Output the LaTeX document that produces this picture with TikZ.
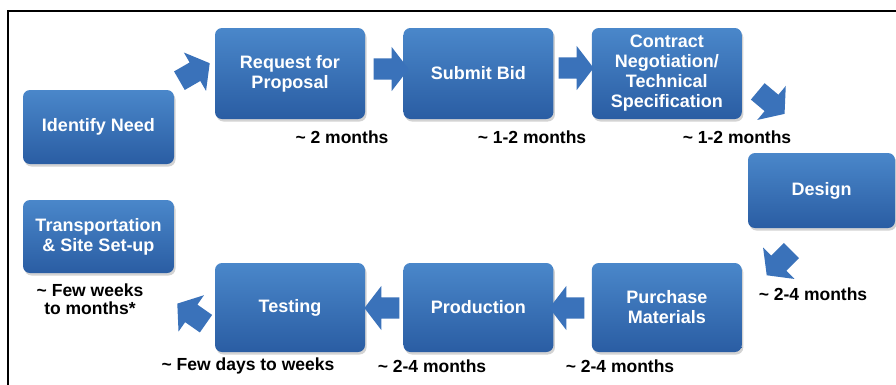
\documentclass[tikz,border=0pt]{standalone}
\usepackage{fontspec}
\setsansfont{Liberation Sans}
\usepackage{xcolor}
\usetikzlibrary{positioning,shapes.arrows,shadows}

\definecolor{boxtop}{HTML}{4A87CA}
\definecolor{boxbot}{HTML}{2A5DA3}
\definecolor{arrowblue}{HTML}{3A72BA}

\begin{document}
\begin{tikzpicture}[x=1pt, y=-1pt, font=\sffamily\bfseries,
    stage/.style={rounded corners=7pt, top color=boxtop, bottom color=boxbot, text=white, align=center,
      minimum width=150pt, inner sep=2pt, font=\sffamily\bfseries\fontsize{18}{20}\selectfont,
      drop shadow={shadow xshift=1.5pt, shadow yshift=-2.5pt, opacity=0.35}},
    dur/.style={align=center, font=\sffamily\bfseries\fontsize{17.5}{18}\selectfont},
    barrow/.style={single arrow, fill=arrowblue, minimum height=35pt, inner xsep=0pt, inner ysep=10.5pt,
      single arrow head extend=11.5pt, single arrow tip angle=105}]
    \useasboundingbox (0,0) rectangle (896,384);
    \draw[line width=2pt] (8,385) -- (8,10.5) -- (897,10.5);
    % top row
    \node[stage, minimum width=151pt, minimum height=74pt] (need) at (98.5,127) {Identify Need};
    \node[stage, minimum height=91pt] (rfp) at (290,73.5) {Request for\\Proposal};
    \node[stage, minimum height=91pt, right=38pt of rfp] (bid) {Submit Bid};
    \node[stage, minimum height=91pt, right=38pt of bid] (contract) {Contract\\Negotiation/\\Technical\\Specification};
    \node[stage, minimum width=147pt, minimum height=75pt] (design) at (821.5,190.5) {Design};
    % bottom row
    \node[stage, minimum height=89pt] (testing) at (290,307.5) {Testing};
    \node[stage, minimum height=89pt, right=38pt of testing] (production) {Production};
    \node[stage, minimum height=89pt, right=38pt of production] (purchase) {Purchase\\Materials};
    \node[stage, minimum width=151pt, minimum height=73pt] (transport) at (98.5,236.5) {Transportation\\\& Site Set-up};
    % block arrows
    \node[barrow, rotate=30] (a1) at (191,74) {};
    \node[barrow] (a2) at (387,69) {};
    \node[barrow] (a3) at (572,68) {};
    \node[barrow, rotate=-40] (a4) at (768,100) {};
    \node[barrow, rotate=225] (a5) at (782,260) {};
    \node[barrow, rotate=180] (a6) at (571,308) {};
    \node[barrow, rotate=180] (a7) at (386,308) {};
    \node[barrow, rotate=145] (a8) at (195,316) {};
    % durations
    \node[dur] (d1) at (342,137) {\textasciitilde\ 2 months};
    \node[dur] (d2) at (532,137) {\textasciitilde\ 1-2 months};
    \node[dur] (d3) at (737,137) {\textasciitilde\ 1-2 months};
    \node[dur] (d4) at (813,294) {\textasciitilde\ 2-4 months};
    \node[dur] (d5) at (620,366) {\textasciitilde\ 2-4 months};
    \node[dur] (d6) at (432,366) {\textasciitilde\ 2-4 months};
    \node[dur] (d7) at (248,366) {\textasciitilde\ Few days to weeks};
    \node[dur] (d8) at (90,299) {\textasciitilde\ Few weeks\\to months*};
\end{tikzpicture}
\end{document}
